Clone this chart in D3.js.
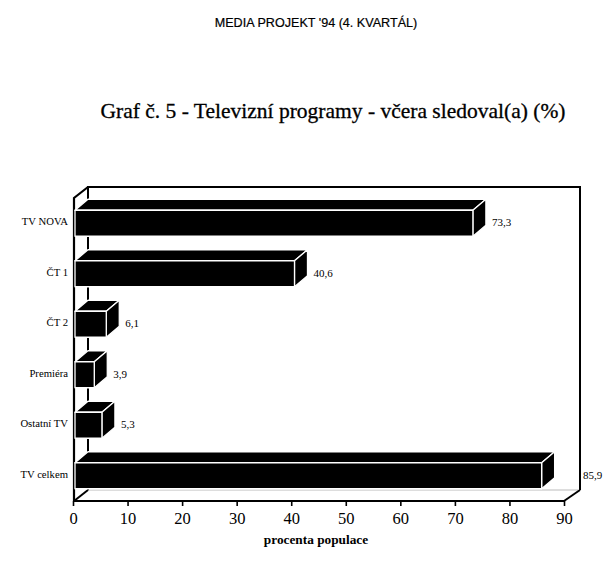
<!DOCTYPE html>
<html>
<head>
<meta charset="utf-8">
<script src="https://cdn.jsdelivr.net/npm/d3@7"></script>
<style>
  html, body { margin: 0; padding: 0; background: #fff; }
  svg { display: block; }
</style>
</head>
<body>
<svg id="chart" width="611" height="562"></svg>
<script>
const categories = ["TV NOVA", "ČT 1", "ČT 2", "Premiéra", "Ostatní TV", "TV celkem"];
const values = [73.3, 40.6, 6.1, 3.9, 5.3, 85.9];
const valueLabels = ["73,3", "40,6", "6,1", "3,9", "5,3", "85,9"];
const tickValues = [0, 10, 20, 30, 40, 50, 60, 70, 80, 90];
const headerText = "MEDIA PROJEKT '94 (4. KVARTÁL)";
const titleText = "Graf č. 5 - Televizní programy - včera sledoval(a) (%)";
const axisTitle = "procenta populace";

const svg = d3.select("#chart");
const serif = "'Liberation Serif', 'DejaVu Serif', serif";

const x = d3.scaleLinear().domain([0, 90]).range([73, 564]);
const y = d3.scaleBand().domain(categories).range([198, 501]).padding(0);

const fTop = 198, fBottom = 501;
const fdx = 14, fdy = -11;   // frame depth
const bdx = 13, bdy = -11;   // bar depth
const barH = 26;

// header + title
svg.append("text").attr("x", 316).attr("y", 27).attr("text-anchor", "middle")
  .attr("font-family", "'Liberation Sans', Arial, sans-serif").attr("font-size", 12.6)
  .attr("stroke", "#000").attr("stroke-width", 0.2)
  .text(headerText);
svg.append("text").attr("x", 333).attr("y", 118).attr("text-anchor", "middle")
  .attr("font-family", serif).attr("font-size", 21.5)
  .attr("stroke", "#000").attr("stroke-width", 0.3)
  .text(titleText);

// frame (back parts)
const frame = svg.append("g").attr("stroke", "#000").attr("fill", "none");
const x0 = x(0) + 1, x90 = x(90);
frame.append("line").attr("x1", x0 + fdx).attr("y1", fBottom + fdy).attr("x2", x90 + fdx).attr("y2", fBottom + fdy)
  .attr("stroke", "#bbb").attr("stroke-width", 1);
frame.append("path").attr("stroke-width", 2)
  .attr("d", `M${x0 + fdx},${fBottom + fdy} L${x0 + fdx},${fTop + fdy} L${x90 + fdx + 2},${fTop + fdy} L${x90 + fdx + 2},${fBottom + fdy}`);
frame.append("path").attr("stroke-width", 2.2)
  .attr("d", `M${x0},${fBottom} L${x0},${fTop} L${x0 + fdx},${fTop + fdy}`);
frame.append("line").attr("stroke-width", 2)
  .attr("x1", x0).attr("y1", fBottom).attr("x2", x0 + fdx).attr("y2", fBottom + fdy);
frame.append("line").attr("stroke-width", 2)
  .attr("x1", x90).attr("y1", fBottom).attr("x2", x90 + fdx + 2).attr("y2", fBottom + fdy);

// bars
const bars = svg.append("g").selectAll("g").data(categories).join("g");
bars.each(function(c, i) {
  const g = d3.select(this);
  const cy = y(c) + y.bandwidth() / 2;
  const yt = cy - barH / 2, yb = cy + barH / 2;
  const xa = x(0) + 2, xb = x(values[i]);
  const st = { fill: "#000", stroke: "#fff", "stroke-width": 1.3, "stroke-linejoin": "round" };
  const top = g.append("path").attr("d", `M${xa},${yt} L${xa + bdx},${yt + bdy} L${xb + bdx},${yt + bdy} L${xb},${yt} Z`);
  const side = g.append("path").attr("d", `M${xb},${yt} L${xb + bdx},${yt + bdy} L${xb + bdx},${yb + bdy} L${xb},${yb} Z`);
  const front = g.append("rect").attr("x", xa).attr("y", yt).attr("width", xb - xa).attr("height", barH);
  [top, side, front].forEach(s => Object.entries(st).forEach(([k, v]) => s.attr(k, v)));

  // value label
  let lx = xb + bdx + 6;
  if (lx + 22 > x90 + fdx) lx = x90 + fdx + 5;
  g.append("text").attr("x", lx).attr("y", cy + 3)
    .attr("font-family", serif).attr("font-size", 11).text(valueLabels[i]);

  // category label
  g.append("text").attr("x", 68).attr("y", cy + 2).attr("text-anchor", "end")
    .attr("font-family", serif).attr("font-size", 10.7).text(c);
});

// x axis (front bottom edge)
const axis = d3.axisBottom(x).tickValues(tickValues).tickSize(5).tickPadding(6).tickFormat(d3.format("d"));
const ax = svg.append("g").attr("transform", `translate(0,${fBottom})`).call(axis);
ax.select(".domain").attr("stroke-width", 2).attr("d", `M${x0},0H${x90}`);
ax.selectAll(".tick line").attr("stroke-width", 1.6);
ax.selectAll(".tick text").attr("font-family", serif).attr("font-size", 16.5).attr("fill", "#000");

svg.append("text").attr("x", 316).attr("y", 544).attr("text-anchor", "middle")
  .attr("font-family", serif).attr("font-size", 13.3).attr("font-weight", "bold")
  .text(axisTitle);
</script>
</body>
</html>
